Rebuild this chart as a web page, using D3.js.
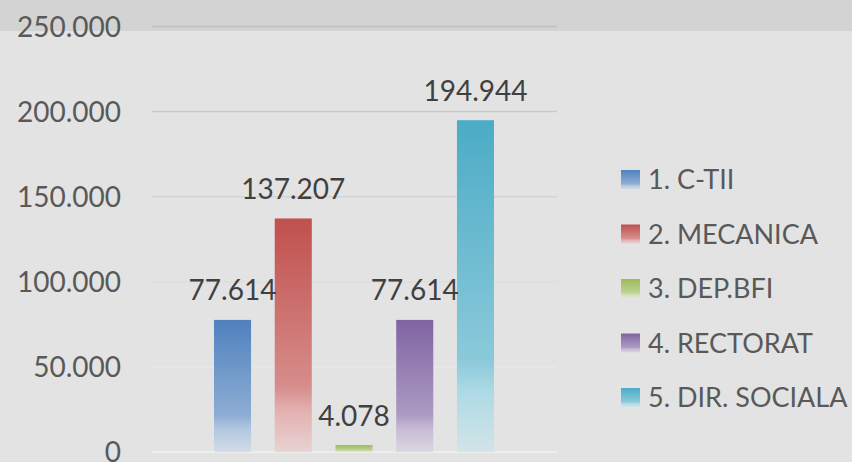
<!DOCTYPE html>
<html>
<head>
<meta charset="utf-8">
<script src="https://cdn.jsdelivr.net/npm/d3@7.9.0/dist/d3.min.js"></script>
<style>
  html, body { margin: 0; padding: 0; background: #e3e3e3; }
  svg { display: block; font-family: Lato, "Open Sans", sans-serif; }
</style>
</head>
<body>
<div id="chart"></div>
<script>
// --- Data ---
const series = ["1. C-TII", "2. MECANICA", "3. DEP.BFI", "4. RECTORAT", "5. DIR. SOCIALA"];
const values = [77614, 137207, 4078, 77614, 194944];
const colors = ["#4f81bd", "#c0504d", "#9bbb59", "#8064a2", "#4bacc6"];
const yTicks = [0, 50000, 100000, 150000, 200000, 250000];

// --- Layout ---
const W = 852, H = 462;
const plot = { left: 152, right: 557, top: 26.5, bottom: 452 };

const locale = d3.formatLocale({ decimal: ",", thousands: ".", grouping: [3], currency: ["", ""] });
const fmt = locale.format(",");

const y = d3.scaleLinear().domain([0, 250000]).range([plot.bottom, plot.top]);
const x = d3.scaleBand().domain(series).range([214, 494]).paddingInner(0.39).paddingOuter(0);
const gridColor = d3.scaleLinear().domain([0, 250000]).range(["#f2f2f2", "#bfbfbf"]);

const svg = d3.select("#chart").append("svg").attr("width", W).attr("height", H);

// gradients
const defs = svg.append("defs");
series.forEach((s, i) => {
  const g = defs.append("linearGradient")
    .attr("id", "grad" + i)
    .attr("x1", 0).attr("y1", 0).attr("x2", 0).attr("y2", 1);
  const c = colors[i];
  g.append("stop").attr("offset", 0).attr("stop-color", c);
  g.append("stop").attr("offset", 0.72).attr("stop-color", d3.interpolateRgb(c, "#ffffff")(0.35));
  g.append("stop").attr("offset", 0.82).attr("stop-color", d3.interpolateRgb(c, "#ffffff")(0.55));
  g.append("stop").attr("offset", 1).attr("stop-color", d3.interpolateRgb(c, "#f0f0f0")(0.82));
});

// background
svg.append("rect").attr("width", W).attr("height", H).attr("fill", "#e3e3e3");
svg.append("rect").attr("width", W).attr("height", 31).attr("fill", "#d3d3d3");

// grid
svg.append("g")
  .selectAll("line")
  .data(yTicks)
  .join("line")
  .attr("x1", plot.left).attr("x2", plot.right)
  .attr("y1", d => y(d)).attr("y2", d => y(d))
  .attr("stroke", d => gridColor(d))
  .attr("stroke-width", 1.5);

// y axis labels
svg.append("g")
  .selectAll("text")
  .data(yTicks)
  .join("text")
  .attr("x", 121)
  .attr("y", d => y(d) + 10)
  .attr("text-anchor", "end")
  .attr("font-size", 28)
  .attr("fill", "#595959")
  .text(d => fmt(d));

// bars
svg.append("g")
  .selectAll("rect")
  .data(values)
  .join("rect")
  .attr("x", (d, i) => x(series[i]))
  .attr("width", x.bandwidth())
  .attr("y", d => y(d))
  .attr("height", d => y(0) - y(d))
  .attr("fill", (d, i) => `url(#grad${i})`);

// data labels
svg.append("g")
  .selectAll("text")
  .data(values)
  .join("text")
  .attr("x", (d, i) => x(series[i]) + x.bandwidth() / 2)
  .attr("y", d => y(d) - 19.5)
  .attr("text-anchor", "middle")
  .attr("font-size", 28)
  .attr("fill", "#404040")
  .text(d => fmt(d));

// legend
const legend = svg.append("g")
  .selectAll("g")
  .data(series)
  .join("g")
  .attr("transform", (d, i) => `translate(621,${189 + i * 54.5})`);
legend.append("rect")
  .attr("x", 0).attr("y", -19).attr("width", 19).attr("height", 19)
  .attr("fill", (d, i) => `url(#grad${i})`);
legend.append("text")
  .attr("x", 27).attr("y", 0)
  .attr("font-size", 27)
  .attr("fill", "#595959")
  .text(d => d);
</script>
</body>
</html>
